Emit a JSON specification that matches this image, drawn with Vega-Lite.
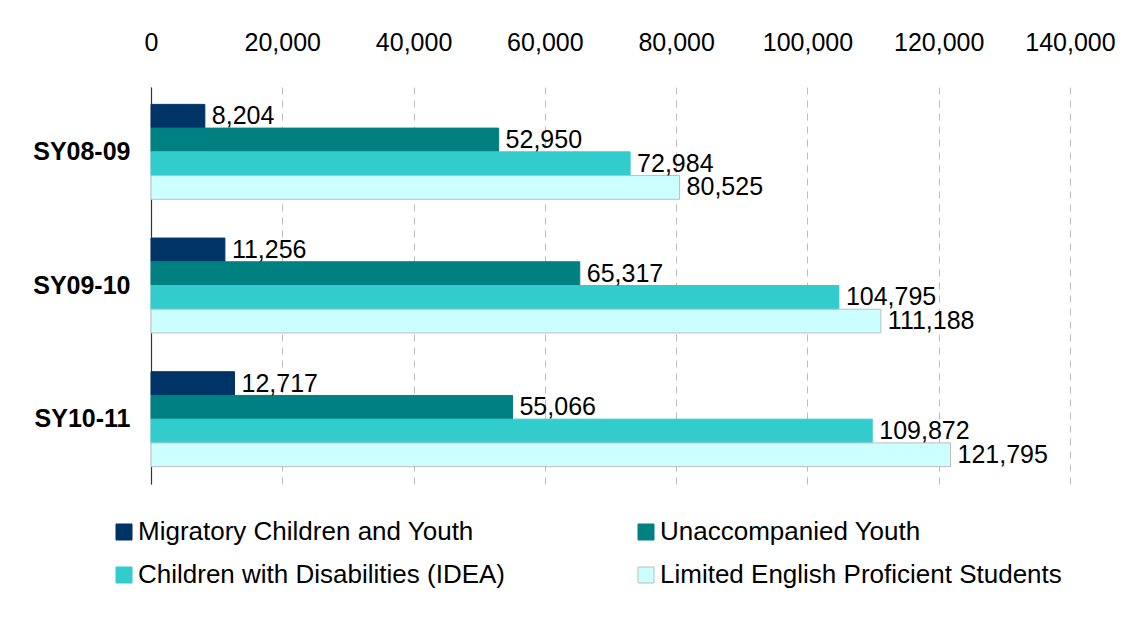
{
  "$schema": "https://vega.github.io/schema/vega-lite/v6.json",
  "width": 919,
  "height": 397,
  "autosize": {"type": "none"},
  "padding": {"left": 151, "top": 87, "right": 60, "bottom": 146},
  "background": "white",
  "config": {
    "view": {"stroke": null},
    "font": "Liberation Sans"
  },
  "data": {
    "values": [
      {"year": "SY08-09", "series": "Migratory Children and Youth", "value": 8204},
      {"year": "SY08-09", "series": "Unaccompanied Youth", "value": 52950},
      {"year": "SY08-09", "series": "Children with Disabilities (IDEA)", "value": 72984},
      {"year": "SY08-09", "series": "Limited English Proficient Students", "value": 80525},
      {"year": "SY09-10", "series": "Migratory Children and Youth", "value": 11256},
      {"year": "SY09-10", "series": "Unaccompanied Youth", "value": 65317},
      {"year": "SY09-10", "series": "Children with Disabilities (IDEA)", "value": 104795},
      {"year": "SY09-10", "series": "Limited English Proficient Students", "value": 111188},
      {"year": "SY10-11", "series": "Migratory Children and Youth", "value": 12717},
      {"year": "SY10-11", "series": "Unaccompanied Youth", "value": 55066},
      {"year": "SY10-11", "series": "Children with Disabilities (IDEA)", "value": 109872},
      {"year": "SY10-11", "series": "Limited English Proficient Students", "value": 121795}
    ]
  },
  "encoding": {
    "y": {
      "field": "year",
      "type": "nominal",
      "sort": ["SY08-09", "SY09-10", "SY10-11"],
      "scale": {"paddingInner": 0.29, "paddingOuter": 0.13},
      "axis": {
        "title": null,
        "ticks": false,
        "labelPadding": 21,
        "labelFontSize": 25,
        "labelFontWeight": "bold",
        "labelColor": "#000000",
        "domainColor": "#333333",
        "domainWidth": 1.2,
        "grid": false
      }
    },
    "yOffset": {
      "field": "series",
      "type": "nominal",
      "sort": ["Migratory Children and Youth", "Unaccompanied Youth", "Children with Disabilities (IDEA)", "Limited English Proficient Students"],
      "scale": {"paddingInner": 0, "paddingOuter": 0}
    },
    "x": {
      "field": "value",
      "type": "quantitative",
      "scale": {"domain": [0, 140000], "nice": false},
      "axis": {
        "orient": "top",
        "title": null,
        "values": [0, 20000, 40000, 60000, 80000, 100000, 120000, 140000],
        "format": ",.0f",
        "ticks": false,
        "domain": false,
        "labelPadding": 32,
        "labelFontSize": 25,
        "labelColor": "#000000",
        "labelFlush": false,
        "grid": true,
        "gridColor": "#BDBDBD",
        "gridDash": [7, 6],
        "gridWidth": 1
      }
    }
  },
  "layer": [
    {
      "mark": {"type": "bar", "strokeWidth": 1},
      "encoding": {
        "color": {
          "field": "series",
          "type": "nominal",
          "scale": {
            "domain": ["Migratory Children and Youth", "Unaccompanied Youth", "Children with Disabilities (IDEA)", "Limited English Proficient Students"],
            "range": ["#003366", "#008080", "#33CCCC", "#CCFFFF"]
          },
          "legend": {
            "title": null,
            "orient": "none",
            "legendX": -40,
            "legendY": 432,
            "direction": "horizontal",
            "columns": 2,
            "columnPadding": 128,
            "rowPadding": 17,
            "symbolType": "square",
            "symbolSize": 256,
            "symbolStrokeWidth": 1,
            "labelFontSize": 26,
            "labelColor": "#000000",
            "labelOffset": 1,
            "labelLimit": 0
          }
        },
        "stroke": {
          "field": "series",
          "type": "nominal",
          "scale": {
            "domain": ["Migratory Children and Youth", "Unaccompanied Youth", "Children with Disabilities (IDEA)", "Limited English Proficient Students"],
            "range": ["#003366", "#008080", "#33CCCC", "#BDBDBD"]
          },
          "legend": null
        }
      }
    },
    {
      "mark": {"type": "text", "align": "left", "baseline": "middle", "dx": 7, "fontSize": 25, "color": "#000000"},
      "encoding": {
        "text": {"field": "value", "type": "quantitative", "format": ","}
      }
    }
  ]
}
